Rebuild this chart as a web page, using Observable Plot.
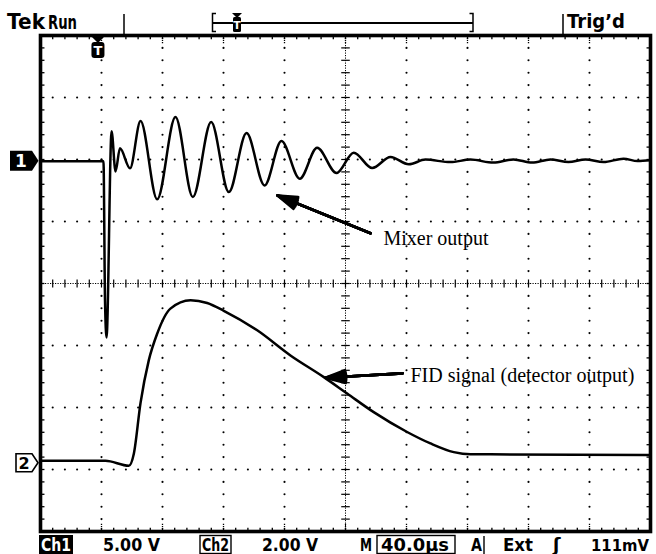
<!DOCTYPE html>
<html><head><meta charset="utf-8">
<script src="https://cdn.jsdelivr.net/npm/d3@7"></script>
<script src="https://cdn.jsdelivr.net/npm/@observablehq/plot@0.6"></script>
<style>
html,body{margin:0;padding:0;background:#fff;}
#wrap{position:relative;width:656px;height:554px;overflow:hidden;background:#fff;}
#wrap svg{position:absolute;left:0;top:0;}
</style></head>
<body><div id="wrap"></div>
<script>
// ---- Channel 1: mixer output (time in µs from trigger, volts) ----
const ch1Time  = [-38, 3.3, 4.3, 5.3, 8.6, 11.2, 14.1, 20.7, 27.6, 38.5, 50.5, 61.9, 73.9, 85.5, 97.1, 108.9, 120.0, 132.0, 143.4, 156.1, 167.4, 179.5, 191.5, 203.5, 214.4, 230.8, 243.9, 259.0, 272.1, 284.4, 296.4, 308.2, 319.4, 331.2, 344.3, 353.5, 362];
const ch1Volts = [0, 0, -11.2, -14.2, 2.42, -0.81, 1.05, -0.56, 3.25, -3.06, 3.57, -2.88, 3.17, -2.48, 2.28, -1.94, 1.64, -1.40, 1.10, -0.94, 0.70, -0.54, 0.35, -0.24, 0.14, -0.06, 0.14, -0.10, 0.16, -0.10, 0.16, -0.06, 0.16, -0.06, 0.22, 0.02, 0.08];
// ---- Channel 2: FID signal (detector output) ----
const ch2Time  = [-38, 4.6, 19.9, 23.2, 27.6, 33.0, 38.5, 47.2, 60.4, 71.3, 82.2, 104.1, 125.9, 147.8, 163.1, 180.5, 202.4, 217.7, 233.0, 243.9, 257.1, 362];
const ch2Volts = [0.08, 0.08, -0.08, 0.31, 1.95, 3.32, 4.18, 4.99, 5.26, 5.17, 4.92, 4.29, 3.48, 2.78, 2.25, 1.65, 1.01, 0.64, 0.36, 0.29, 0.29, 0.27];
// ---- scope settings ----
const ch1VoltsPerDiv = 5, ch2VoltsPerDiv = 2, usPerDiv = 40;
const ch1Offset = 1.97, ch2Offset = -2.9;   // ground markers, divisions
const timeStart = -38;                      // µs at left edge
const statusLabels = ["Ch1", "5.00 V", "Ch2", "2.00 V", "M", "40.0µs", "A", "Ext", "ʃ", "111mV"];
const labelNames = ["Mixer output", "FID signal (detector output)"];
const arrowFrom = [[178.4, 0.81], [199.4, -1.45]];
const arrowTo   = [[117.4, 1.42], [148.9, -1.52]];
const labelAt   = [[186.9, 0.73], [204.6, -1.49]];
const headAngles = [36, 27, 18, 9, 2];

const ch1 = ch1Time.map((t, i) => ({t, v: ch1Volts[i]}));
const ch2 = ch2Time.map((t, i) => ({t, v: ch2Volts[i]}));
const notes = labelNames.map((label, i) => ({label, x1: arrowFrom[i][0], y1: arrowFrom[i][1], x2: arrowTo[i][0], y2: arrowTo[i][1], tx: labelAt[i][0], ty: labelAt[i][1]}));

// graticule
const timeEnd = timeStart + 10 * usPerDiv;
const xMinor = d3.range(0, 51).map(i => timeStart + i * usPerDiv / 5);
const xMajor = d3.range(1, 10).map(k => timeStart + k * usPerDiv);
const xCenter = timeStart + 5 * usPerDiv;
const yMinor = d3.range(-20, 21).map(j => j / 5);
const yMajor = [-3, -2, -1, 1, 2, 3];
const dots = [];
for (const x of xMajor) if (x !== xCenter) for (const y of yMinor.slice(1, -1)) dots.push({x, y});
for (const y of yMajor) for (const x of xMinor.slice(1, -1)) dots.push({x, y});
const innerX = xMinor.slice(1, -1), innerY = yMinor.slice(1, -1);

const chart = Plot.plot({
  width: 656, height: 554,
  marginLeft: 40, marginRight: 6, marginTop: 35, marginBottom: 23,
  x: {domain: [timeStart, timeEnd], axis: null},
  y: {domain: [-4, 4], axis: null},
  style: {background: "white", overflow: "visible"},
  marks: [
    Plot.dot(dots, {x: "x", y: "y", r: 1.05, fill: "black"}),
    Plot.ruleX([xCenter], {stroke: "black", strokeWidth: 1, strokeDasharray: "1.2 1.3"}),
    Plot.ruleY([0], {stroke: "black", strokeWidth: 1, strokeDasharray: "1.2 1.3"}),
    Plot.link(innerY, {x1: xCenter - 2.8, x2: xCenter + 2.8, y1: d => d, y2: d => d, stroke: "black", strokeWidth: 1.2}),
    Plot.link(innerX, {x1: d => d, x2: d => d, y1: -0.065, y2: 0.065, stroke: "black", strokeWidth: 1.2}),
    // edge ticks
    Plot.link(innerX, {x1: d => d, x2: d => d, y1: 4, y2: 3.94, stroke: "black", strokeWidth: 1.3}),
    Plot.link(innerX, {x1: d => d, x2: d => d, y1: -4, y2: -3.94, stroke: "black", strokeWidth: 1.3}),
    Plot.link(innerY, {y1: d => d, y2: d => d, x1: timeStart, x2: timeStart + 2.6, stroke: "black", strokeWidth: 1.3}),
    Plot.link(innerY, {y1: d => d, y2: d => d, x1: timeEnd, x2: timeEnd - 2.6, stroke: "black", strokeWidth: 1.3}),
    Plot.link(xMajor, {x1: d => d, x2: d => d, y1: 4, y2: 3.86, stroke: "black", strokeWidth: 1.3, strokeDasharray: "1.2 1"}),
    Plot.link(xMajor, {x1: d => d, x2: d => d, y1: -4, y2: -3.86, stroke: "black", strokeWidth: 1.3, strokeDasharray: "1.2 1"}),
    // traces
    Plot.line(ch1, {x: "t", y: d => ch1Offset + d.v / ch1VoltsPerDiv, curve: "monotone-x", stroke: "black", strokeWidth: 2.5, strokeLinejoin: "round"}),
    Plot.line(ch2, {x: "t", y: d => ch2Offset + d.v / ch2VoltsPerDiv, curve: "monotone-x", stroke: "black", strokeWidth: 2.5}),
    // annotations (several head angles overlaid to give a solid arrowhead)
    ...headAngles.map(a => Plot.arrow(notes, {x1: "x1", y1: "y1", x2: "x2", y2: "y2", stroke: "black", strokeWidth: 2.6, headLength: 12, headAngle: a})),
    Plot.text(notes, {x: "tx", y: "ty", text: "label", textAnchor: "start", lineAnchor: "middle", fontFamily: "Liberation Serif, Times New Roman, serif", fontSize: 20, fill: "black"}),
    Plot.frame({stroke: "black", strokeWidth: 3.6})
  ]
});
const wrap = document.getElementById("wrap");
wrap.appendChild(chart);

const xs = chart.scale("x"), ys = chart.scale("y");
const m1 = ys.apply(ch1Offset), m2 = ys.apply(ch2Offset), tx = xs.apply(0);
const F = 'font-family="DejaVu Sans, Roboto, sans-serif"';
const T = (s, x, y, w, extra = "") => `<text x="${x}" y="${y}" textLength="${w}" lengthAdjust="spacingAndGlyphs" ${F} ${extra}>${s}</text>`;
const fy = 550.5;
const FS = 'font-size="18" font-weight="bold"';
const overlay = `
<svg width="656" height="554" xmlns="http://www.w3.org/2000/svg" style="pointer-events:none">
  ${T("Tek", 7, 29, 38, 'font-size="22" font-weight="bold"')}
  ${T("Run", 48, 29, 29, 'font-size="20" font-weight="bold"')}
  <line x1="124" y1="14" x2="124" y2="34" stroke="black" stroke-width="1.5"/>
  <path d="M216,13.5 H212.5 V31.5 H216 M469.5,13.5 H473 V31.5 H469.5" fill="none" stroke="black" stroke-width="1.5"/>
  <line x1="212.5" y1="23" x2="473" y2="23" stroke="black" stroke-width="1.8"/>
  <path d="M232,13 L242,13 L237,18 Z" fill="black"/>
  <rect x="233" y="17" width="8" height="15" rx="1.5" fill="black"/>
  <text x="237" y="29" text-anchor="middle" font-size="11" font-weight="bold" fill="white" ${F}>T</text>
  <line x1="563" y1="14" x2="563" y2="34" stroke="black" stroke-width="1.5"/>
  ${T("Trig’d", 567, 28, 58, 'font-size="20" font-weight="bold"')}

  <path d="M${tx-8},35 L${tx+8},35 L${tx},43 Z" fill="black"/>
  <rect x="${tx-6.5}" y="42" width="13" height="16" rx="3" fill="black"/>
  <text x="${tx}" y="55" text-anchor="middle" font-size="13" font-weight="bold" fill="white" ${F}>T</text>

  <path d="M10,${m1-10} H32 L38.5,${m1} L32,${m1+10} H10 Z" fill="black"/>
  <text x="21" y="${m1+6.5}" text-anchor="middle" font-size="17" font-weight="bold" fill="white" ${F}>1</text>
  <path d="M16,${m2-9} H32 L38,${m2} L32,${m2+9} H16 Z" fill="white" stroke="black" stroke-width="1.6"/>
  <text x="24" y="${m2+6}" text-anchor="middle" font-size="16" font-weight="bold" fill="black" ${F}>2</text>

  <rect x="39" y="535" width="34" height="19" fill="black"/>
  ${T(statusLabels[0], 41, fy, 30, FS + ' fill="white"')}
  ${T(statusLabels[1], 103, fy, 57, FS)}
  <rect x="200" y="535.5" width="31" height="18" fill="none" stroke="black" stroke-width="1.4"/>
  ${T(statusLabels[2], 202, fy, 27, FS)}
  ${T(statusLabels[3], 262, fy, 56, FS)}
  ${T(statusLabels[4], 360, fy, 12, FS)}
  <rect x="377" y="535.5" width="78" height="18" fill="none" stroke="black" stroke-width="1.4"/>
  ${T(statusLabels[5], 381, fy, 68, FS)}
  ${T(statusLabels[6], 471, fy, 11, FS)}
  <line x1="484" y1="536" x2="484" y2="554" stroke="black" stroke-width="1.4"/>
  ${T(statusLabels[7], 503, fy, 30, FS)}
  <text x="553" y="${fy}" font-size="18" font-weight="bold" ${F}>${statusLabels[8]}</text>
  ${T(statusLabels[9], 591, fy, 58, 'font-size="16.5" font-weight="bold"')}
</svg>`;
const holder = document.createElement("div");
holder.innerHTML = overlay;
wrap.appendChild(holder.firstElementChild);
</script>
</body></html>
